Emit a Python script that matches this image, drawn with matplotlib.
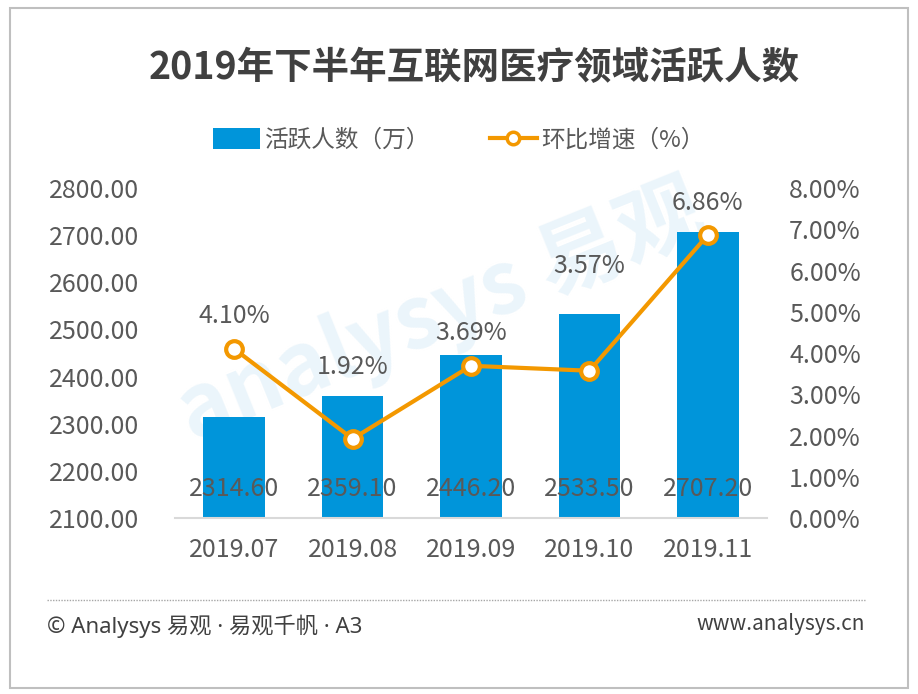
import matplotlib.pyplot as plt
from matplotlib.patches import Patch, Rectangle
from matplotlib.lines import Line2D
from matplotlib.ticker import FuncFormatter

plt.rcParams['font.family'] = ['Noto Sans CJK SC', 'DejaVu Sans']

# data
months = ["2019.07", "2019.08", "2019.09", "2019.10", "2019.11"]
active_users = [2314.60, 2359.10, 2446.20, 2533.50, 2707.20]   # 万
growth_rate = [4.10, 1.92, 3.69, 3.57, 6.86]                    # %
# label offsets (points) above each line marker, moved up where a bar is in the way
label_offsets = [14, 42, 14, 66, 14]

bar_color = "#0095DA"
line_color = "#F39800"
text_color = "#595959"

fig = plt.figure(figsize=(9.18, 6.94), dpi=100)

# outer frame
fig.patches.append(Rectangle((10 / 918, 6 / 694), 898 / 918, 680 / 694,
                             transform=fig.transFigure, fill=False,
                             edgecolor="#bfbfbf", lw=1.5))

fig.text(474 / 918, 1 - 68 / 694, "2019年下半年互联网医疗领域活跃人数",
         ha="center", va="center", fontsize=27, fontweight="bold", color="#404040")

ax = fig.add_axes([175 / 918, 1 - 518 / 694, 592 / 918, 330 / 694])
x = list(range(len(months)))

# faint watermark behind the chart
ax.text(0.45, 0.62, "analysys 易观", transform=ax.transAxes, fontsize=62,
        fontweight="bold", fontstyle="italic", color="#ebf5fb", rotation=22,
        ha="center", va="center", zorder=0)

ax.bar(x, [v - 2100 for v in active_users], bottom=2100, width=0.52,
       color=bar_color, zorder=2)
ax.set_ylim(2100, 2800)
ax.set_xlim(-0.5, 4.5)
ax.set_yticks([2100 + 100 * i for i in range(8)])
ax.yaxis.set_major_formatter(FuncFormatter(lambda v, p: f"{v:.2f}"))
ax.set_xticks(x)
ax.set_xticklabels(months)
ax.tick_params(axis="both", length=0, labelsize=18, colors=text_color)
ax.tick_params(axis="y", pad=26)
ax.tick_params(axis="x", pad=14)
for s in ["top", "right", "left"]:
    ax.spines[s].set_visible(False)
ax.spines["bottom"].set_color("#d9d9d9")
ax.spines["bottom"].set_linewidth(1.5)

for xi, v in zip(x, active_users):
    ax.annotate(f"{v:.2f}", (xi, 2100), xytext=(0, 21), textcoords="offset points",
                ha="center", va="center", fontsize=18, color=text_color, zorder=4)

ax2 = ax.twinx()
ax2.plot(x, growth_rate, color=line_color, lw=3, marker="o", markersize=12,
         markerfacecolor="white", markeredgecolor=line_color, markeredgewidth=3,
         zorder=3)
ax2.set_ylim(0, 8)
ax2.set_yticks(range(9))
ax2.yaxis.set_major_formatter(FuncFormatter(lambda v, p: f"{v:.2f}%"))
ax2.tick_params(axis="y", length=0, labelsize=18, colors=text_color, pad=16)
for s in ["top", "right", "left", "bottom"]:
    ax2.spines[s].set_visible(False)

for xi, v, off in zip(x, growth_rate, label_offsets):
    ax2.annotate(f"{v:.2f}%", (xi, v), xytext=(0, off), textcoords="offset points",
                 ha="center", va="bottom", fontsize=18, color=text_color)

handles = [Patch(facecolor=bar_color, edgecolor="none"),
           Line2D([0], [0], color=line_color, lw=3, marker="o", markersize=9,
                  markerfacecolor="white", markeredgewidth=2.5)]
fig.legend(handles, ["活跃人数（万）", "环比增速（%）"], loc="center",
           bbox_to_anchor=(0.5, 1 - 140 / 694), ncol=2, frameon=False,
           fontsize=17, labelcolor=text_color, handlelength=2.0,
           handleheight=1.0, columnspacing=2.5, handletextpad=0.2)

# footer
fig.add_artist(Line2D([47 / 918, 865 / 918], [1 - 600 / 694, 1 - 600 / 694],
                      transform=fig.transFigure, color="#a6a6a6", lw=1,
                      linestyle=(0, (1, 1))))
fig.text(47 / 918, 1 - 626 / 694, "© Analysys 易观 · 易观千帆 · A3", ha="left",
         va="center", fontsize=16, color="#404040",
         family=["Noto Sans", "Noto Sans CJK SC"])
fig.text(865 / 918, 1 - 624 / 694, "www.analysys.cn", ha="right",
         va="center", fontsize=15, color="#404040")

fig.savefig("out.png", dpi=100)
